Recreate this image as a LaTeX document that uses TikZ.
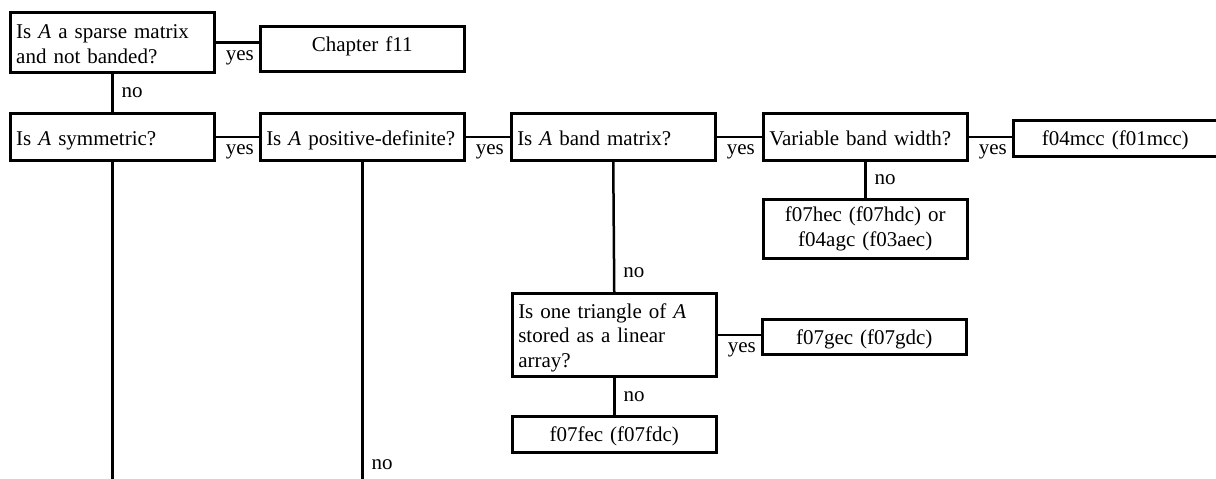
\documentclass[tikz,border=0pt]{standalone}
\usepackage{fontspec}
\setmainfont[WordSpace=1.8]{Liberation Serif}
\usepackage{tikz}
\usetikzlibrary{calc,positioning}

\begin{document}
\begin{tikzpicture}[x=1pt,y=-1pt,line width=2.5pt,
                    every node/.append style={font=\fontsize{21}{24.5}\selectfont},
                    qbox/.style={draw, anchor=north west, text width=192pt, align=left,
                                 inner xsep=6pt, inner ysep=0pt},
                    rbox/.style={draw, anchor=north west, text width=192pt, align=center,
                                 inner xsep=6pt, inner ysep=0pt},
                    capline/.style={text height=#1, text depth=0pt},
                    yeslbl/.style={below right, inner xsep=9pt, inner ysep=7pt},
                    nolbl/.style={right, inner xsep=8pt}]
    \useasboundingbox (0,0) rectangle (1216,479);
    \coordinate (bottom) at (0,479);
    % questions
    \node[qbox, minimum height=60pt] (sparse) at (9,11) {\rule{0pt}{18pt}Is \textit{A} a sparse matrix\\and not banded?};
    \node[qbox, capline=18pt, minimum height=47pt] (sym) at (9,112) {Is \textit{A} symmetric?};
    \node[qbox, capline=18pt, minimum height=47pt] (posdef) at (259,112) {Is \textit{A} positive-definite?};
    \node[qbox, capline=18pt, minimum height=47pt] (band) at (510,112) {Is \textit{A} band matrix?};
    \node[qbox, capline=18pt, minimum height=47pt] (varbw) at (762,112) {Variable band width?};
    \node[qbox, minimum height=83pt] (tri) at (511,292) {\rule{0pt}{21pt}Is one triangle of \textit{A}\\stored as a linear\\array?};
    % answers
    \node[rbox, capline=5pt, minimum height=45pt] (chap) at (259,25) {Chapter f11};
    \node[rbox, capline=15pt, minimum height=36pt] (mcc) at (1012,119) {f04mcc (f01mcc)};
    \node[rbox, minimum height=59pt] (hec) at (762,198) {f07hec (f07hdc) or\\f04agc (f03aec)};
    \node[rbox, capline=15pt, minimum height=35pt] (gec) at (761,318) {f07gec (f07gdc)};
    \node[rbox, capline=15pt, minimum height=36pt] (fec) at (511,415) {f07fec (f07fdc)};
    % yes branches
    \draw (sparse.east) -- node[pos=0, yeslbl] {yes} (sparse.east -| chap.west);
    \draw (sym.east) -- node[pos=0, yeslbl] {yes} (posdef.west);
    \draw (posdef.east) -- node[pos=0, yeslbl] {yes} (band.west);
    \draw (band.east) -- node[pos=0, yeslbl] {yes} (varbw.west);
    \draw (varbw.east) -- node[pos=0, yeslbl] {yes} (varbw.east -| mcc.west);
    \draw (tri.east) -- node[pos=0, yeslbl] {yes} (tri.east -| gec.west);
    % no branches
    \draw (sparse.south) -- node[midway, nolbl] {no} (sym.north);
    \draw (sym.south) -- (sym.south |- bottom);
    \draw (posdef.south) -- node[pos=.955, nolbl] {no} (posdef.south |- bottom);
    \draw (band.south) -- node[pos=.85, nolbl] {no} (tri.north);
    \draw (varbw.south) -- node[midway, nolbl] {no} (hec.north);
    \draw (tri.south) -- node[midway, nolbl] {no} (fec.north);
\end{tikzpicture}
\end{document}
